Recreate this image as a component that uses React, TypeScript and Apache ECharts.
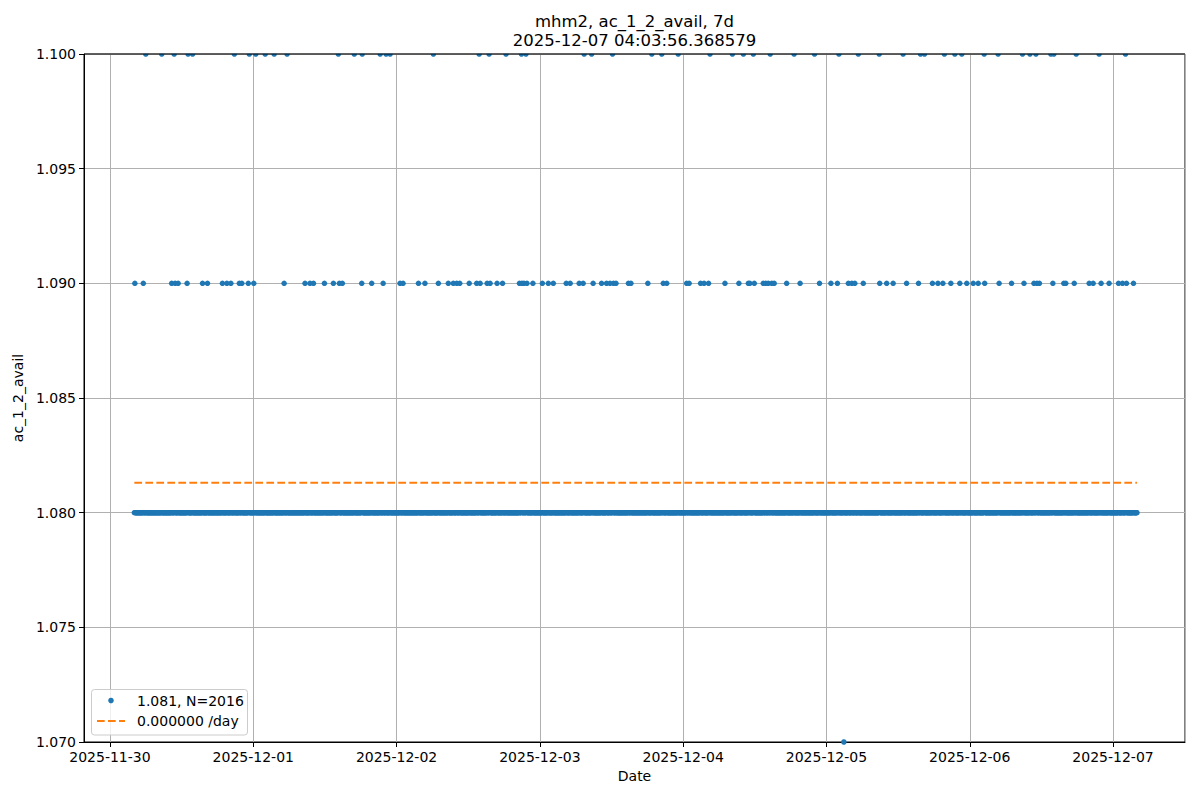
import React, { useEffect, useRef } from "react";
import * as echarts from "echarts";

// ---------- text ----------
const TITLE_LINES = ["mhm2, ac_1_2_avail, 7d", "2025-12-07 04:03:56.368579"];
const X_NAME = "Date";
const Y_NAME = "ac_1_2_avail";
const SERIES_LABEL = "1.081, N=2016";
const TREND_LABEL = "0.000000 /day";

// ---------- sampling ----------
const YEAR = 2025;
const FIRST_SAMPLE = "11-30 04:05";
const SAMPLE_MINUTES = 5;
const SAMPLE_COUNT = 2016;

// ---------- values ----------
const BASE_VALUE = 1.08;
const HIGH_VALUE = 1.1;
const MID_VALUE = 1.09;
const LOW_VALUE = 1.07;
const TREND_VALUE = 1.0813;

// samples reading 1.100
const AT_110 = [
  "11-30 06:00", "11-30 08:40", "11-30 10:45", "11-30 13:05", "11-30 13:50", "11-30 20:50", "11-30 23:20",
  "12-01 00:25", "12-01 02:00", "12-01 03:30", "12-01 05:40", "12-01 14:15", "12-01 16:55", "12-01 18:15",
  "12-01 21:15", "12-01 22:15", "12-01 22:55",
  "12-02 06:10", "12-02 13:50", "12-02 15:30", "12-02 18:20", "12-02 20:55", "12-02 21:40",
  "12-03 07:25", "12-03 08:40", "12-03 12:10", "12-03 18:45", "12-03 20:25", "12-03 23:10",
  "12-04 04:30", "12-04 08:15", "12-04 10:05", "12-04 11:45", "12-04 14:35", "12-04 18:35", "12-04 22:00",
  "12-05 02:05", "12-05 05:20", "12-05 08:50", "12-05 12:50", "12-05 15:45", "12-05 16:25", "12-05 19:45",
  "12-05 21:30", "12-05 22:40",
  "12-06 02:25", "12-06 04:45", "12-06 08:50", "12-06 10:05", "12-06 11:05", "12-06 13:35", "12-06 14:05",
  "12-06 17:50", "12-06 21:40",
  "12-07 02:05",
];

// samples reading 1.090
const AT_109 = [
  "11-30 04:10", "11-30 05:35", "11-30 10:20", "11-30 10:55", "11-30 11:25", "11-30 12:55", "11-30 15:30",
  "11-30 16:20", "11-30 18:50", "11-30 19:35", "11-30 20:15", "11-30 21:40", "11-30 22:05", "11-30 23:10",
  "12-01 00:05", "12-01 05:10", "12-01 08:40", "12-01 09:30", "12-01 10:05", "12-01 11:55", "12-01 13:25",
  "12-01 14:25", "12-01 14:55", "12-01 18:10", "12-01 19:50", "12-01 21:45",
  "12-02 00:35", "12-02 01:05", "12-02 03:40", "12-02 04:45", "12-02 07:00", "12-02 08:40", "12-02 09:30",
  "12-02 10:05", "12-02 10:35", "12-02 12:10", "12-02 13:25", "12-02 14:00", "12-02 15:10", "12-02 15:40",
  "12-02 16:50", "12-02 17:45", "12-02 20:35", "12-02 21:00", "12-02 21:20", "12-02 21:50", "12-02 22:50",
  "12-03 00:25", "12-03 01:25", "12-03 02:15", "12-03 04:25", "12-03 05:05", "12-03 06:35", "12-03 07:15",
  "12-03 08:55", "12-03 10:20", "12-03 11:10", "12-03 11:45", "12-03 12:20", "12-03 12:45", "12-03 14:50",
  "12-03 15:15", "12-03 18:05", "12-03 20:40", "12-03 21:15",
  "12-04 00:35", "12-04 01:00", "12-04 02:55", "12-04 03:30", "12-04 04:15", "12-04 07:00", "12-04 09:20",
  "12-04 10:55", "12-04 11:10", "12-04 11:55", "12-04 13:25", "12-04 13:50", "12-04 14:15", "12-04 14:50",
  "12-04 15:15", "12-04 17:20", "12-04 19:35", "12-04 22:50",
  "12-05 00:45", "12-05 01:50", "12-05 03:40", "12-05 04:15", "12-05 04:45", "12-05 06:10", "12-05 08:55",
  "12-05 10:05", "12-05 11:10", "12-05 13:25", "12-05 15:25", "12-05 17:45", "12-05 18:40", "12-05 19:30",
  "12-05 20:50", "12-05 22:20", "12-05 23:30",
  "12-06 00:35", "12-06 01:25", "12-06 02:30", "12-06 04:55", "12-06 07:00", "12-06 09:05", "12-06 10:45",
  "12-06 11:15", "12-06 11:40", "12-06 13:55", "12-06 15:45", "12-06 16:05", "12-06 17:30", "12-06 20:00",
  "12-06 20:40", "12-06 22:00", "12-06 23:20",
  "12-07 00:55", "12-07 01:35", "12-07 02:15", "12-07 03:25",
];

// samples reading 1.070
const AT_107 = ["12-05 02:55"];

// ---------- axes ----------
const X_RANGE = ["11-29 19:39", "12-07 12:03"];
const Y_MIN = 1.07;
const Y_MAX = 1.1;
const Y_STEP = 0.005;

const FONT = "'DejaVu Sans', sans-serif";
const BLUE = "#1f77b4";
const ORANGE = "#ff7f0e";

const toMs = (s: string) =>
  Date.UTC(YEAR, Number(s.slice(0, 2)) - 1, Number(s.slice(3, 5)), Number(s.slice(6, 8)), Number(s.slice(9, 11)));

function buildPoints(): [number, number][] {
  const overrides = new Map<number, number>();
  AT_109.forEach((s) => overrides.set(toMs(s), MID_VALUE));
  AT_110.forEach((s) => overrides.set(toMs(s), HIGH_VALUE));
  AT_107.forEach((s) => overrides.set(toMs(s), LOW_VALUE));
  const start = toMs(FIRST_SAMPLE);
  const step = SAMPLE_MINUTES * 60 * 1000;
  const pts: [number, number][] = [];
  for (let i = 0; i < SAMPLE_COUNT; i++) {
    const t = start + i * step;
    const v = overrides.get(t);
    pts.push([t, v === undefined ? BASE_VALUE : v]);
  }
  return pts;
}

export default function App() {
  const ref = useRef<HTMLDivElement>(null);

  useEffect(() => {
    if (!ref.current) return;
    const chart = echarts.init(ref.current, null, { renderer: "svg" });
    const points = buildPoints();
    const first = points[0][0];
    const last = points[points.length - 1][0];

    const option: any = {
      animation: false,
      useUTC: true,
      backgroundColor: "#ffffff",
      textStyle: { fontFamily: FONT },
      grid: {
        left: 84,
        right: 15,
        top: 54,
        bottom: 58,
        containLabel: false,
        outerBoundsMode: "none",
        show: true,
        borderColor: "#000000",
        borderWidth: 1,
        backgroundColor: "transparent",
      },
      xAxis: {
        type: "time",
        min: toMs(X_RANGE[0]),
        max: toMs(X_RANGE[1]),
        splitNumber: 8,
        name: X_NAME,
        nameLocation: "middle",
        nameGap: 27,
        nameTextStyle: { color: "#000", fontSize: 14, fontFamily: FONT },
        axisLine: { show: true, onZero: false, lineStyle: { color: "#000", width: 1 } },
        axisTick: { show: true, length: 5, lineStyle: { color: "#000", width: 1 } },
        axisLabel: {
          color: "#000",
          fontSize: 14,
          fontFamily: FONT,
          margin: 8,
          formatter: "{yyyy}-{MM}-{dd}",
          hideOverlap: false,
        },
        splitLine: { show: true, lineStyle: { color: "#b0b0b0", width: 1 } },
      },
      yAxis: {
        type: "value",
        min: Y_MIN,
        max: Y_MAX,
        interval: Y_STEP,
        name: Y_NAME,
        nameLocation: "middle",
        nameGap: 56,
        nameTextStyle: { color: "#000", fontSize: 14, fontFamily: FONT },
        axisLine: { show: true, lineStyle: { color: "#000", width: 1 } },
        axisTick: { show: true, length: 5, lineStyle: { color: "#000", width: 1 } },
        axisLabel: {
          color: "#000",
          fontSize: 14,
          fontFamily: FONT,
          margin: 8,
          formatter: (v: number) => v.toFixed(3),
        },
        splitLine: { show: true, lineStyle: { color: "#b0b0b0", width: 1 } },
      },
      series: [
        {
          name: SERIES_LABEL,
          type: "scatter",
          data: points,
          symbol: "circle",
          symbolSize: 5.5,
          itemStyle: { color: BLUE, opacity: 1 },
          z: 2,
        },
        {
          name: TREND_LABEL,
          type: "line",
          data: [
            [first, TREND_VALUE],
            [last, TREND_VALUE],
          ],
          symbol: "none",
          lineStyle: { color: ORANGE, width: 2, type: [7.7, 3.3] },
          z: 3,
        },
      ],
      graphic: [
        // title
        {
          type: "text",
          x: 634.5,
          y: 21,
          style: { text: TITLE_LINES[0], align: "center", verticalAlign: "middle", fill: "#000", font: `16.5px ${FONT}` },
          z: 20,
        },
        {
          type: "text",
          x: 634.5,
          y: 40,
          style: { text: TITLE_LINES[1], align: "center", verticalAlign: "middle", fill: "#000", font: `16.5px ${FONT}` },
          z: 20,
        },
        // clip markers at the top edge of the axes
        {
          type: "rect",
          shape: { x: 84, y: 47, width: 1101.5, height: 6.5 },
          style: { fill: "#ffffff" },
          z: 10,
        },
        {
          type: "line",
          shape: { x1: 84, y1: 54, x2: 1185, y2: 54 },
          style: { stroke: "#000", lineWidth: 1 },
          z: 11,
        },
        // legend
        {
          type: "rect",
          shape: { x: 91.5, y: 689.5, width: 156, height: 45.5, r: 3 },
          style: { fill: "rgba(255,255,255,0.8)", stroke: "#cccccc", lineWidth: 1 },
          z: 12,
        },
        {
          type: "circle",
          shape: { cx: 111, cy: 700.5, r: 2.75 },
          style: { fill: BLUE },
          z: 13,
        },
        {
          type: "line",
          shape: { x1: 97, y1: 721, x2: 125, y2: 721 },
          style: { stroke: ORANGE, lineWidth: 2, lineDash: [7.7, 3.3] },
          z: 13,
        },
        {
          type: "text",
          x: 137,
          y: 700.5,
          style: { text: SERIES_LABEL, verticalAlign: "middle", fill: "#000", font: `14px ${FONT}` },
          z: 13,
        },
        {
          type: "text",
          x: 137,
          y: 721,
          style: { text: TREND_LABEL, verticalAlign: "middle", fill: "#000", font: `14px ${FONT}` },
          z: 13,
        },
      ],
    };

    chart.setOption(option);
    return () => chart.dispose();
  }, []);

  return (
    <div
      ref={ref}
      style={{ position: "fixed", left: 0, top: 0, width: 1200, height: 800, background: "#fff" }}
    />
  );
}
